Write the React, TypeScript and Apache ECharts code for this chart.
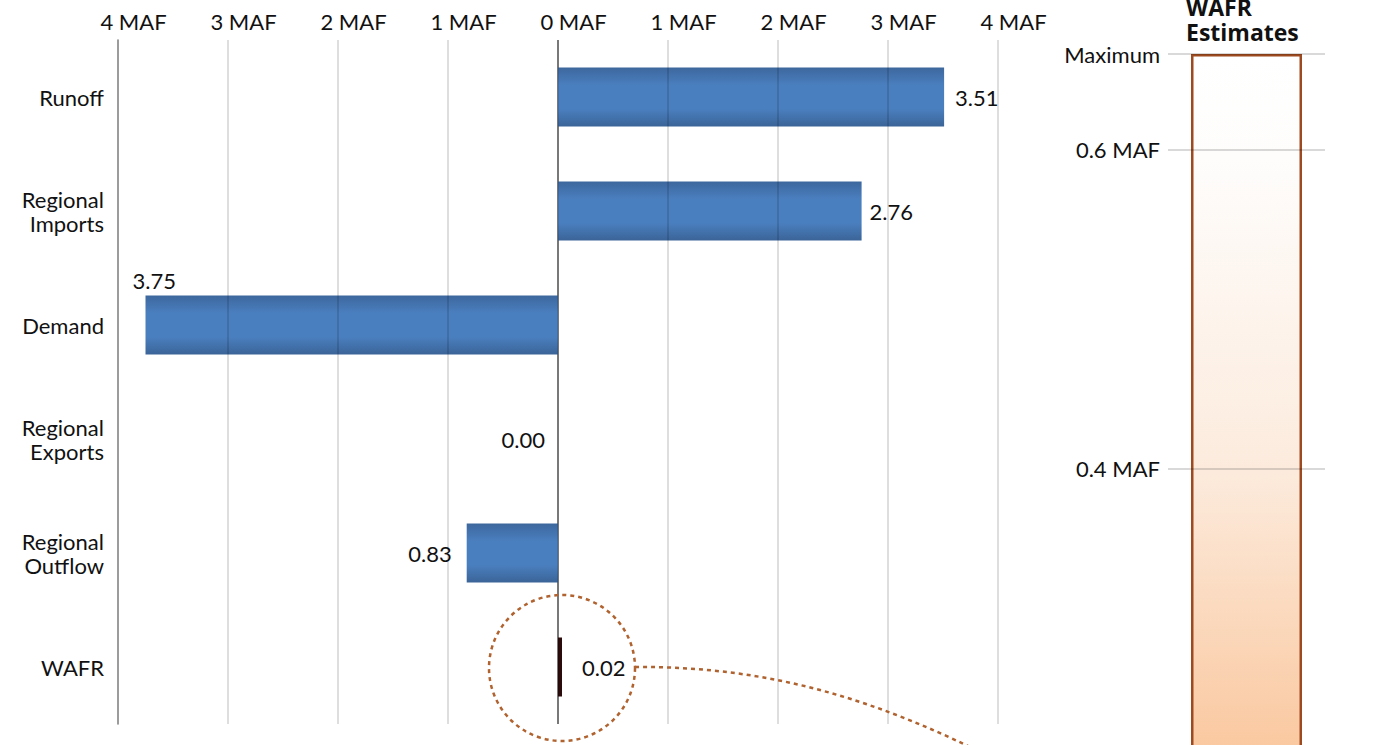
import React, { useEffect, useRef } from "react";
import * as echarts from "echarts";

const categories = ["Runoff", "Regional\nImports", "Demand", "Regional\nExports", "Regional\nOutflow", "WAFR"];
const flowValues = [3.51, 2.76, -3.75, 0.0, -0.83, 0.02];
const valueLabels = ["3.51", "2.76", "3.75", "0.00", "0.83", "0.02"];
const xTicks = [-4, -3, -2, -1, 0, 1, 2, 3, 4];
const estimateCategory = ["WAFR Estimates"];
const estimateMax = [0.66];
const estimateTicks = [0.2, 0.4, 0.6];

const FONT = "Lato, 'Open Sans', sans-serif";
const WAFR_INDEX = 5;

export default function App() {
  const ref = useRef<HTMLDivElement>(null);
  useEffect(() => {
    if (!ref.current) return;
    const chart = echarts.init(ref.current, undefined, { renderer: "svg" });
    const blue = new echarts.graphic.LinearGradient(0, 0, 0, 1, [
      { offset: 0, color: "#3d679d" },
      { offset: 0.3, color: "#4a7fbf" },
      { offset: 0.7, color: "#4a7fbf" },
      { offset: 1, color: "#3b6498" },
    ]);
    const labelCfg: any[] = [
      { position: "right", distance: 11 },
      { position: "right", distance: 8 },
      { position: [-13, -26] },
      { position: "left", distance: 13 },
      { position: "left", distance: 15 },
      { position: "right", distance: 20 },
    ];
    const mkItem = (v: number, i: number) => ({
      value: v,
      label: { show: true, formatter: valueLabels[i], ...labelCfg[i] },
    });
    const mainData = flowValues.map((v, i) => (i === WAFR_INDEX ? "-" : mkItem(v, i)));
    const wafrData = flowValues.map((v, i) => (i === WAFR_INDEX ? mkItem(v, i) : "-"));
    const peach = new echarts.graphic.LinearGradient(
      0, 54, 0, 745,
      [
        { offset: 0, color: "#ffffff" },
        { offset: 0.15, color: "#fefdfc" },
        { offset: 0.6, color: "#fcebdd" },
        { offset: 1, color: "#fac9a1" },
      ],
      true
    );
    chart.setOption({
      animation: false,
      textStyle: { fontFamily: FONT },
      grid: [
        { left: 118, top: 40, width: 880, height: 684, outerBoundsMode: "none", containLabel: false },
        { left: 1168, top: 54, width: 157, height: 734, outerBoundsMode: "none", containLabel: false },
      ],
      xAxis: [
        {
          type: "value",
          gridIndex: 0,
          position: "top",
          min: xTicks[0],
          max: xTicks[xTicks.length - 1],
          interval: 1,
          z: 5,
          axisLine: { show: false },
          axisTick: { show: false },
          axisLabel: {
            formatter: (v: number) => Math.abs(v) + " MAF",
            fontSize: 22,
            color: "#111",
            margin: 8,
            padding: [0, 0, 0, 31],
            fontFamily: FONT,
          },
          splitLine: { show: true, lineStyle: { color: "rgba(0,0,0,0.13)", width: 2 } },
        },
        {
          type: "category",
          gridIndex: 1,
          data: estimateCategory,
          show: false,
        },
      ],
      yAxis: [
        {
          type: "category",
          gridIndex: 0,
          data: categories,
          inverse: true,
          axisLine: { show: true, onZero: false, lineStyle: { color: "#b4b4b4", width: 2 } },
          axisTick: { show: false },
          axisLabel: {
            fontSize: 22,
            lineHeight: 24,
            color: "#111",
            margin: 14,
            align: "right",
            fontFamily: FONT,
          },
          splitLine: { show: false },
        },
        {
          type: "value",
          gridIndex: 1,
          min: estimateTicks[0],
          max: estimateMax[0],
          interval: 0.2,
          z: 5,
          axisLine: { show: false },
          axisTick: { show: false },
          axisLabel: {
            formatter: (v: number) =>
              v > 0.65 ? "Maximum" : v < 0.3 ? "" : v.toFixed(1) + " MAF",
            fontSize: 22,
            color: "#111",
            margin: 8,
            fontFamily: FONT,
          },
          splitLine: { show: true, lineStyle: { color: "rgba(0,0,0,0.15)", width: 2 } },
        },
      ],
      series: [
        {
          type: "bar",
          xAxisIndex: 0,
          yAxisIndex: 0,
          data: mainData,
          barWidth: 59,
          itemStyle: { color: blue },
          label: { fontSize: 22, color: "#111", fontFamily: FONT },
          markLine: {
            silent: true,
            symbol: "none",
            z: 1,
            label: { show: false },
            lineStyle: { color: "#8a8a8a", width: 2, type: "solid" },
            data: [{ xAxis: 0 }],
          },
        },
        {
          type: "bar",
          xAxisIndex: 0,
          yAxisIndex: 0,
          data: wafrData,
          barWidth: 59,
          barGap: "-100%",
          barMinHeight: 4,
          itemStyle: { color: "#2b0b0b" },
          label: { fontSize: 22, color: "#111", fontFamily: FONT },
        },
        {
          type: "bar",
          xAxisIndex: 1,
          yAxisIndex: 1,
          data: estimateMax,
          barWidth: 111,
          itemStyle: { color: peach, borderColor: "#9e4a20", borderWidth: 2.5 },
        },
      ],
      graphic: [
        {
          type: "text",
          left: 1186,
          top: -6,
          style: {
            text: "WAFR\nEstimates",
            font: "bold 23px 'Open Sans', sans-serif",
            lineHeight: 25,
            fill: "#111",
            align: "center",
            width: 118,
          },
          z: 10,
        },
        {
          type: "circle",
          shape: { cx: 562, cy: 668, r: 73 },
          style: { fill: "none", stroke: "#b0622f", lineWidth: 2.5, lineDash: [4, 4] },
          z: 10,
        },
        {
          type: "bezierCurve",
          shape: { x1: 635, y1: 667, cpx1: 770, cpy1: 666, cpx2: 880, cpy2: 700, x2: 1000, y2: 762 },
          style: { fill: "none", stroke: "#b0622f", lineWidth: 2.5, lineDash: [4, 4] },
          z: 10,
        },
      ],
    });
    return () => chart.dispose();
  }, []);
  return (
    <div
      ref={ref}
      style={{ position: "fixed", left: 0, top: 0, width: 1379, height: 745, background: "#fff" }}
    />
  );
}
